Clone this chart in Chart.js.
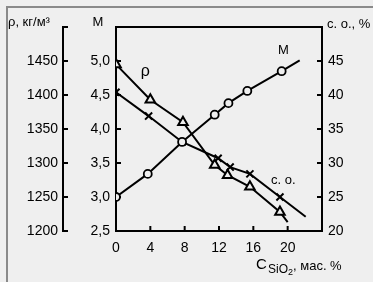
<!DOCTYPE html>
<html><head><meta charset="utf-8">
<script src="https://cdn.jsdelivr.net/npm/chart.js@4.4.1/dist/chart.umd.min.js"></script>
<style>
html,body{margin:0;padding:0;background:#efefef;}
#wrap{position:relative;width:373px;height:282px;}
canvas{display:block;}
</style></head><body>
<div id="wrap"><canvas id="c" width="373" height="282"></canvas></div>
<script>
// ---- data ----
const mX   = [0, 3.7, 7.7, 11.5, 13.1, 15.3, 19.3, 21.4];
const mVal = [3.0, 3.34, 3.81, 4.21, 4.38, 4.56, 4.85, 5.01];
const rhoX   = [0, 4, 7.8, 11.5, 13.0, 15.6, 19.1, 20.0];
const rhoVal = [1445, 1393, 1360, 1297, 1282, 1265, 1228, 1213];
const coX   = [0, 3.8, 7.7, 11.9, 13.3, 15.6, 19.1, 22.1];
const coVal = [40.4, 36.9, 33.1, 30.7, 29.4, 28.4, 25.0, 22.1];
const xTicks   = [0, 4, 8, 12, 16, 20];
const rhoTicks = [1200, 1250, 1300, 1350, 1400, 1450];
const mTicks   = [2.5, 3.0, 3.5, 4.0, 4.5, 5.0];
const coTicks  = [20, 25, 30, 35, 40, 45];
const seriesLabels = [
  {text:'ρ', x:3.4, axis:'yM', y:4.84, size:16},
  {text:'M', x:19.5, axis:'yM', y:5.16, size:13},
  {text:'с. о.', x:19.5, axis:'yCo', y:27.4, size:13}
];

const FONT = 'Liberation Sans, Arial, sans-serif';
function pts(xs, ys){ return xs.map((x,i)=>({x:x, y:ys[i]})); }
function lastHidden(r){ return ctx => ctx.dataIndex === ctx.dataset.data.length-1 ? 0 : r; }

const decor = {
  id:'decor',
  beforeDatasetsDraw(chart){
    const c = chart.ctx, a = chart.chartArea, s = chart.scales;
    c.save();
    c.strokeStyle = '#000'; c.lineWidth = 2;
    // box top line
    c.beginPath(); c.moveTo(a.left-1, a.top); c.lineTo(a.right+1, a.top); c.stroke();
    const L = 5;
    const rx = s.yRho.right;
    rhoTicks.concat([1500]).forEach(v=>{ const y=s.yRho.getPixelForValue(v); c.beginPath(); c.moveTo(rx-1,y); c.lineTo(rx+L,y); c.stroke(); });
    mTicks.forEach(v=>{ const y=s.yM.getPixelForValue(v); c.beginPath(); c.moveTo(a.left,y); c.lineTo(a.left+L,y); c.stroke(); });
    coTicks.forEach(v=>{ const y=s.yCo.getPixelForValue(v); c.beginPath(); c.moveTo(a.right,y); c.lineTo(a.right-L,y); c.stroke(); });
    xTicks.forEach(v=>{ const x=s.x.getPixelForValue(v); c.beginPath(); c.moveTo(x,a.bottom); c.lineTo(x,a.bottom-L); c.stroke(); });
    c.restore();
  },
  afterDraw(chart){
    const c = chart.ctx, s = chart.scales;
    c.save();
    c.fillStyle = '#000'; c.textBaseline = 'middle'; c.textAlign = 'left';
    // frame
    c.strokeStyle = '#8a8a8a'; c.lineWidth = 2;
    c.beginPath(); c.moveTo(7, 282); c.lineTo(7, 7); c.lineTo(373, 7); c.stroke();
    // axis titles
    c.font = '13px ' + FONT;
    c.fillText('ρ, кг/м³', 8, 22);
    c.textAlign = 'center'; c.fillText('M', 98, 22);
    c.textAlign = 'left'; c.fillText('с. о., %', 327, 24);
    // x title
    c.font = '15px ' + FONT; c.fillText('C', 256, 265);
    c.font = '12px ' + FONT; c.fillText('SiO', 268, 270);
    c.font = '9px ' + FONT; c.fillText('2', 288, 273);
    c.font = '13px ' + FONT; c.fillText(', мас. %', 293, 266);
    // series labels
    seriesLabels.forEach(l=>{
      c.font = l.size + 'px ' + FONT; c.textAlign = 'center';
      c.fillText(l.text, s.x.getPixelForValue(l.x), s[l.axis].getPixelForValue(l.y));
    });
    c.restore();
  }
};

const tickFont = {family: FONT, size: 14};
new Chart(document.getElementById('c'), {
  type: 'line',
  data: { datasets: [
    { label:'M', data: pts(mX, mVal), yAxisID:'yM', borderColor:'#000', borderWidth:2,
      pointStyle:'circle', pointRadius:lastHidden(4), pointBorderWidth:1.8, pointBackgroundColor:'#efefef', pointBorderColor:'#000', tension:0 },
    { label:'ρ', data: pts(rhoX, rhoVal), yAxisID:'yRho', borderColor:'#000', borderWidth:2,
      pointStyle:'triangle', pointRadius:lastHidden(5.5), pointBorderWidth:2, pointBackgroundColor:'#efefef', pointBorderColor:'#000', tension:0 },
    { label:'с. о.', data: pts(coX, coVal), yAxisID:'yCo', borderColor:'#000', borderWidth:2,
      pointStyle:'crossRot', pointRadius:lastHidden(5), pointBorderWidth:2, pointBorderColor:'#000', tension:0 }
  ]},
  options: {
    responsive:false, animation:false, devicePixelRatio:1,
    layout:{padding:{left:0, right:0, top:27, bottom:0}},
    plugins:{legend:{display:false}, tooltip:{enabled:false}},
    scales:{
      x:{ type:'linear', min:0, max:24, position:'bottom',
          afterFit(sc){ sc.height = 51; },
          afterBuildTicks(sc){ sc.ticks = xTicks.map(v=>({value:v})); },
          grid:{display:false, drawTicks:false},
          border:{display:true, color:'#000', width:2},
          ticks:{color:'#000', font:tickFont, padding:9, maxRotation:0, autoSkip:false,
                 callback:v=>String(v)} },
      yRho:{ type:'linear', position:'left', weight:2, min:1200, max:1500,
          afterFit(sc){ sc.width = 63; },
          afterBuildTicks(sc){ sc.ticks = rhoTicks.map(v=>({value:v})); },
          grid:{display:false, drawTicks:false},
          border:{display:true, color:'#000', width:2},
          ticks:{color:'#000', font:tickFont, padding:5, autoSkip:false,
                 callback:v=>String(v)} },
      yM:{ type:'linear', position:'left', weight:1, min:2.5, max:5.5,
          afterFit(sc){ sc.width = 53; },
          afterBuildTicks(sc){ sc.ticks = mTicks.map(v=>({value:v})); },
          grid:{display:false, drawTicks:false},
          border:{display:true, color:'#000', width:2},
          ticks:{color:'#000', font:tickFont, padding:6, autoSkip:false,
                 callback:v=>Number(v).toFixed(1).replace('.', ',')} },
      yCo:{ type:'linear', position:'right', min:20, max:50,
          afterFit(sc){ sc.width = 51; },
          afterBuildTicks(sc){ sc.ticks = coTicks.map(v=>({value:v})); },
          grid:{display:false, drawTicks:false},
          border:{display:true, color:'#000', width:2},
          ticks:{color:'#000', font:tickFont, padding:6, autoSkip:false,
                 callback:v=>String(v)} }
    }
  },
  plugins:[decor]
});
</script>
</body></html>
